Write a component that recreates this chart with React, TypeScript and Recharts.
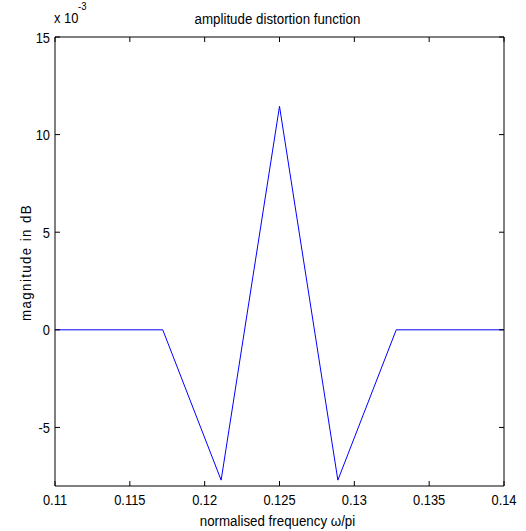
import { LineChart, Line, XAxis, YAxis } from 'recharts';

// normalised frequency (omega/pi) and amplitude distortion (x 10^-3 dB)
const freq = [0.11, 0.1172, 0.1211, 0.125, 0.1289, 0.1328, 0.14];
const magnitude = [0, 0, -7.7, 11.45, -7.7, 0, 0];

const xTicks = [0.11, 0.115, 0.12, 0.125, 0.13, 0.135, 0.14];
const yTicks = [-5, 0, 5, 10, 15];

const data = freq.map((f, i) => ({ f, m: magnitude[i] }));

const W = 526;
const H = 531;
// axes take 1px each, so the plot box sits at left 55, top 37, right 504, bottom 486
const M = { top: 36, right: 21, bottom: 44, left: 54 };
const FONT = "'Liberation Sans', Arial, sans-serif";
const TICK = 5;
const NARROW = 0.86;

// matlab-ish narrow lettering
const NText = ({ x, y, size, anchor = 'start', rotate = 0, children }: any) => (
  <text
    x={0}
    y={0}
    textAnchor={anchor}
    fontFamily={FONT}
    fontSize={size}
    fill="#000"
    transform={`translate(${x} ${y}) rotate(${rotate}) scale(${NARROW} 1)`}
  >
    {children}
  </text>
);

const BottomTick = ({ x, y, payload }: any) => (
  <g>
    <line x1={x} x2={x} y1={y} y2={y - TICK} stroke="#000" />
    <NText x={x} y={y + 19} size={15} anchor="middle">
      {String(payload.value)}
    </NText>
  </g>
);

const TopTick = ({ x, y }: any) => (
  <line x1={x} x2={x} y1={y} y2={y + TICK} stroke="#000" />
);

const LeftTick = ({ x, y, payload }: any) => (
  <g>
    <line x1={x} x2={x + TICK} y1={y} y2={y} stroke="#000" />
    <NText x={x - 5} y={y + 5.5} size={15} anchor="end">
      {String(payload.value)}
    </NText>
  </g>
);

const RightTick = ({ x, y }: any) => (
  <line x1={x} x2={x - TICK} y1={y} y2={y} stroke="#000" />
);

export default function App() {
  const cx = (55 + 504) / 2;
  const cy = (37 + 486) / 2;
  return (
    <div style={{ position: 'absolute', left: 0, top: 0, width: W, height: H, background: '#fff' }}>
      <LineChart width={W} height={H} data={data} margin={M}>
        <XAxis
          xAxisId="b"
          dataKey="f"
          type="number"
          domain={[0.11, 0.14]}
          ticks={xTicks}
          interval={0}
          height={1}
          tickSize={0}
          tickMargin={0}
          axisLine={{ stroke: '#000' }}
          tick={<BottomTick />}
          allowDataOverflow
        />
        <XAxis
          xAxisId="t"
          orientation="top"
          dataKey="f"
          type="number"
          domain={[0.11, 0.14]}
          ticks={xTicks}
          interval={0}
          height={1}
          tickSize={0}
          tickMargin={0}
          axisLine={{ stroke: '#000' }}
          tick={<TopTick />}
          allowDataOverflow
        />
        <YAxis
          yAxisId="l"
          type="number"
          domain={[-8, 15]}
          ticks={yTicks}
          interval={0}
          width={1}
          tickSize={0}
          tickMargin={0}
          axisLine={{ stroke: '#000' }}
          tick={<LeftTick />}
          allowDataOverflow
        />
        <YAxis
          yAxisId="r"
          orientation="right"
          type="number"
          domain={[-8, 15]}
          ticks={yTicks}
          interval={0}
          width={1}
          tickSize={0}
          tickMargin={0}
          axisLine={{ stroke: '#000' }}
          tick={<RightTick />}
          allowDataOverflow
        />
        <Line
          xAxisId="b"
          yAxisId="l"
          type="linear"
          dataKey="m"
          stroke="#0000ff"
          strokeWidth={1}
          dot={false}
          activeDot={false}
          isAnimationActive={false}
        />
      </LineChart>
      <svg
        width={W}
        height={H}
        style={{ position: 'absolute', left: 0, top: 0, pointerEvents: 'none' }}
      >
        <NText x={cx - 2} y={24} size={15.5} anchor="middle">
          amplitude distortion function
        </NText>
        <NText x={54} y={23} size={15}>
          x 10
        </NText>
        <NText x={78} y={10} size={11}>
          -3
        </NText>
        <NText x={cx - 2} y={526} size={15.5} anchor="middle">
          normalised frequency ω/pi
        </NText>
        <text
          x={0}
          y={0}
          textAnchor="middle"
          fontFamily={FONT}
          fontSize={15.5}
          letterSpacing={1.6}
          fill="#000"
          transform={`translate(31 ${cy + 1}) rotate(-90) scale(${NARROW} 1)`}
        >
          magnitude in dB
        </text>
      </svg>
    </div>
  );
}
